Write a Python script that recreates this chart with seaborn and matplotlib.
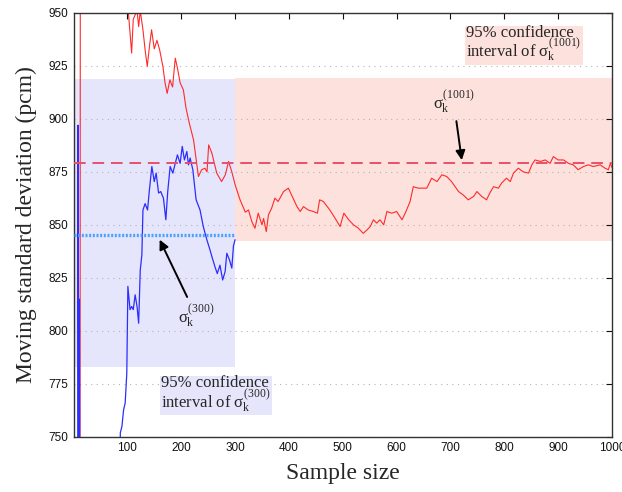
import matplotlib
matplotlib.use("Agg")
import matplotlib.pyplot as plt
import seaborn as sns
import pandas as pd

# Moving standard deviation of the full 1001-sample run
red_x = [1, 12, 13, 60, 100, 102, 108, 111, 118, 121, 124, 129, 133, 137, 141, 145, 150,
         155, 160, 166, 170, 174, 179, 184, 189, 193, 198, 204, 209, 215, 223, 232, 238,
         244, 248, 251, 257, 266, 275, 282, 288, 294, 300, 309, 319, 325, 331, 337, 343,
         350, 353, 358, 362, 368, 374, 380, 390, 399, 405, 415, 421, 427, 436, 445, 453,
         457, 464, 476, 486, 495, 502, 511, 520, 529, 538, 545, 551, 557, 563, 569, 576,
         582, 591, 600, 610, 616, 625, 631, 640, 650, 656, 665, 675, 684, 693, 702, 715,
         724, 733, 743, 749, 758, 767, 773, 780, 789, 795, 804, 811, 817, 826, 835, 845,
         851, 857, 867, 876, 885, 891, 900, 910, 919, 928, 937, 947, 956, 965, 978, 987,
         993, 997, 1000]
red_y = [600, 600, 1150, 1050, 960, 950, 931, 947, 951, 943.5, 951, 942, 932.5, 924.7, 934,
         942, 933, 937, 932.5, 924.7, 917, 912, 918.4, 915, 928.6, 924, 917, 913.7, 905,
         898, 890, 872.8, 876, 876.7, 875, 887.7, 883.8, 874.4, 870.4, 873.6, 879.9, 875,
         869, 862, 856, 857, 851.6, 848.4, 855.5, 850, 853, 846.8, 854.7, 857.9, 862.6,
         861, 865.7, 867.3, 864, 858.6, 856.3, 858.6, 857, 856.3, 855.5, 861.8, 861, 857,
         853, 849.2, 855.5, 852.4, 850, 848.4, 846, 847.6, 849.2, 852.4, 850.8, 852.4, 850,
         856.3, 855.5, 856.3, 852.4, 855.5, 861, 868, 867.3, 867.3, 867.3, 872, 870.4,
         873.6, 872.8, 870.4, 865.7, 864, 861.8, 863.4, 865.7, 863.4, 861.8, 865, 868,
         867.3, 869.7, 872, 870.4, 874.4, 876.7, 875, 874.4, 878.3, 880.6, 879.9, 880.6,
         879, 882.2, 880.6, 880.6, 879, 878.3, 876, 877.5, 878.3, 877.5, 878.3, 876.7, 876,
         879, 877]

# Moving standard deviation of the first 300 samples
blue_x = [1, 8, 8.5, 9.5, 10.5, 11, 12, 60, 85, 87, 90, 93, 96, 99, 101, 105, 108, 111,
          114.5, 118, 121, 124, 125, 127, 129, 133, 137.5, 141, 145.5, 150, 153.5, 158, 162,
          167, 171.5, 175, 179.5, 184.5, 189, 193, 198, 202, 206, 210.5, 213.5, 216.6,
          221.6, 227.7, 235, 241, 247.6, 253.7, 257, 263, 267, 272, 277, 281.6, 284.7,
          289.6, 294, 297, 300]
blue_y = [600, 600, 897, 700, 700, 815, 650, 650, 700, 752, 755, 762.7, 766, 780, 821, 810,
          811.5, 810, 817, 811.5, 803.6, 828.8, 831, 836, 857, 860, 857, 866.5, 877.5, 870.4,
          874.4, 865, 865.7, 862.6, 852.4, 865.7, 877.5, 874.4, 879, 883, 879, 887, 880.6,
          884.6, 878.3, 881.5, 876, 861.8, 857, 849.2, 843, 838, 835, 830, 827, 831, 824,
          828, 836.6, 833.5, 829.6, 840, 843]

# Final estimates and 95% confidence intervals
sigma_300 = 845
ci_300 = (783, 919)
range_300 = (1, 300)
sigma_1001 = 879
ci_1001 = (842.5, 919.3)
range_1001 = (300, 1000)

x_ticks = [100, 200, 300, 400, 500, 600, 700, 800, 900, 1000]
y_ticks = [750, 775, 800, 825, 850, 875, 900, 925, 950]

sns.set_style("white")
plt.rcParams["font.family"] = ["Liberation Sans", "DejaVu Sans"]
plt.rcParams["mathtext.fontset"] = "custom"
plt.rcParams["mathtext.rm"] = "Liberation Serif"
plt.rcParams["mathtext.it"] = "Liberation Serif"
plt.rcParams["mathtext.bf"] = "Liberation Serif:bold"

BLUE_FILL = "#e5e6fb"
PINK_FILL = "#fde1dc"
serif = ["Liberation Serif", "DejaVu Serif"]

fig = plt.figure(figsize=(6.22, 4.92), dpi=100)
ax = fig.add_axes([0.119, 0.112, 0.865, 0.862])

# confidence bands
ax.fill_between(list(range_300), ci_300[0], ci_300[1], color=BLUE_FILL, lw=0, zorder=0.2)
ax.fill_between(list(range_1001), ci_1001[0], ci_1001[1], color=PINK_FILL, lw=0, zorder=0.2)

# horizontal dotted grid
for yv in y_ticks:
    ax.axhline(yv, color="#b4b4b4", lw=0.8, ls=(0, (1, 4)), zorder=0.5)

red_df = pd.DataFrame({"k": red_x, "sigma": red_y})
blue_df = pd.DataFrame({"k": blue_x, "sigma": blue_y})
sns.lineplot(data=red_df, x="k", y="sigma", color="#ff2a2a", lw=0.8, ax=ax,
             estimator=None, sort=False, zorder=2)
sns.lineplot(data=blue_df, x="k", y="sigma", color="#2d2dff", lw=0.9, ax=ax,
             estimator=None, sort=False, zorder=2)

# reference levels
ax.plot([1, 1000], [sigma_1001, sigma_1001], color="#e8506c", lw=1.4,
        ls=(0, (6, 3.5)), zorder=3)
ax.plot([1, 300], [sigma_300, sigma_300], color="#4aa2ff", lw=2.4,
        ls=(0, (0.6, 0.5)), zorder=3)

ax.set_xlim(1, 1000)
ax.set_ylim(750, 950)
ax.set_xticks(x_ticks)
ax.set_yticks(y_ticks)
ax.tick_params(direction="in", top=True, right=True, length=4, width=0.8,
               labelsize=8.5, colors="#111111", pad=4)
for s in ax.spines.values():
    s.set_color("#333333")
    s.set_linewidth(1.0)

ax.set_xlabel("Sample size", family=serif, fontsize=17, labelpad=6)
ax.set_ylabel("Moving standard deviation (pcm)", family=serif, fontsize=17, labelpad=8)

# annotations
arrow = dict(arrowstyle="-|>", color="black", lw=1.4, mutation_scale=14,
             shrinkA=2, shrinkB=0)
ax.annotate(r"$\sigma_{\mathrm{k}}^{(1001)}$", xy=(721, 880.5), xytext=(706, 908),
            ha="center", va="center", fontsize=12, arrowprops=arrow, zorder=5)
ax.annotate(r"$\sigma_{\mathrm{k}}^{(300)}$", xy=(160, 843), xytext=(228, 807),
            ha="center", va="center", fontsize=12, arrowprops=arrow, zorder=5)

ax.text(729, 935.3, "95% confidence\ninterval of " + r"$\sigma_{\mathrm{k}}^{(1001)}$",
        family=serif, fontsize=12, ha="left", va="center", linespacing=0.8,
        bbox=dict(facecolor=PINK_FILL, edgecolor="none", pad=1), zorder=5)
ax.text(163, 770.0, "95% confidence\ninterval of " + r"$\sigma_{\mathrm{k}}^{(300)}$",
        family=serif, fontsize=12, ha="left", va="center", linespacing=0.8,
        bbox=dict(facecolor=BLUE_FILL, edgecolor="none", pad=1), zorder=5)

fig.savefig("out.png", dpi=100)
